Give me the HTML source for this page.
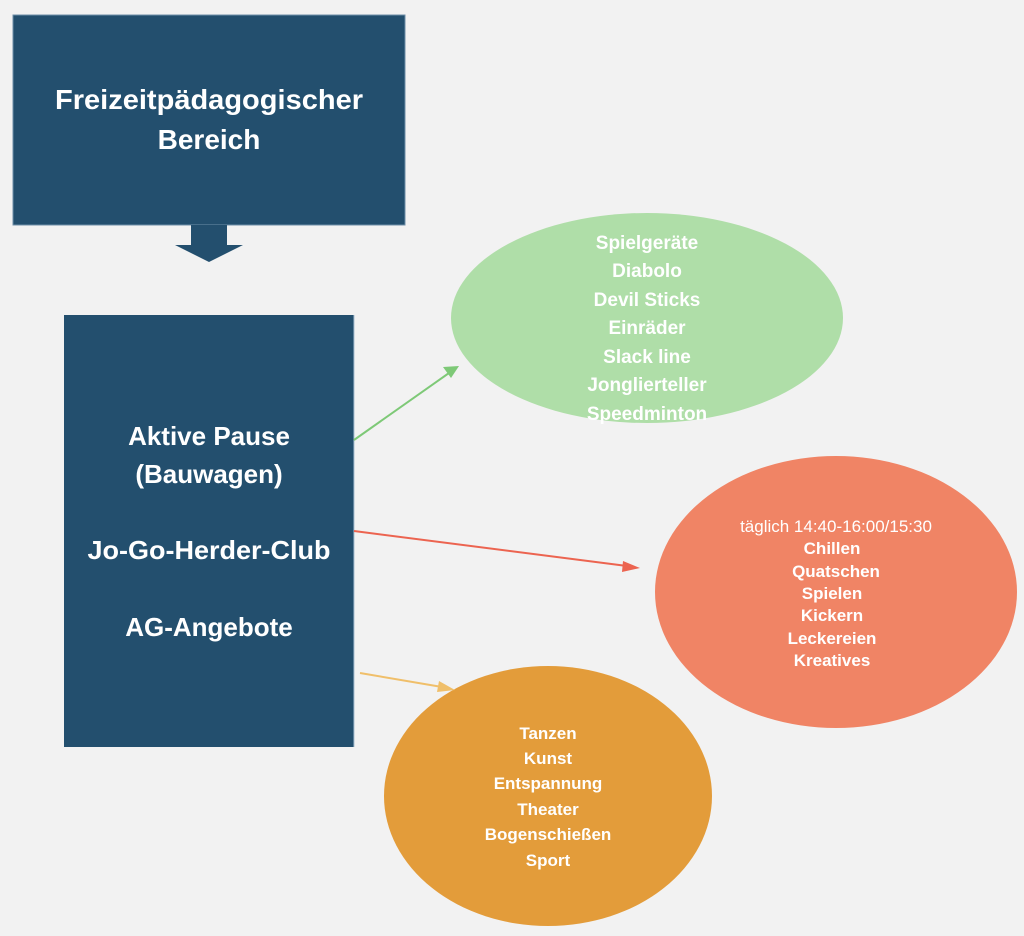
<!DOCTYPE html>
<html><head><meta charset="utf-8"><style>
html,body{margin:0;padding:0;background:#f2f2f2;}
svg{display:block;}
text{font-family:"Liberation Sans",sans-serif;fill:#fff;text-anchor:middle;}
</style></head><body>
<svg width="1024" height="936" viewBox="0 0 1024 936" xmlns="http://www.w3.org/2000/svg">
<rect width="1024" height="936" fill="#f2f2f2"/>
<rect x="13" y="15" width="392" height="210" fill="#234f6e" stroke="#6e8fa8" stroke-width="1"/>
<text x="209" y="109" font-size="28" font-weight="bold" textLength="308" lengthAdjust="spacingAndGlyphs">Freizeitpädagogischer</text>
<text x="209" y="149" font-size="28" font-weight="bold">Bereich</text>
<polygon points="191,225 227,225 227,245 243,245 209,262 175,245 191,245" fill="#234f6e"/>
<rect x="64" y="315" width="290" height="432" fill="#234f6e"/>
<line x1="354" y1="315" x2="354" y2="747" stroke="#a9c1d4" stroke-width="1"/>
<g font-size="26" font-weight="bold">
<text x="209" y="445">Aktive Pause</text>
<text x="209" y="483">(Bauwagen)</text>
<text x="209" y="559" textLength="243" lengthAdjust="spacingAndGlyphs">Jo-Go-Herder-Club</text>
<text x="209" y="636">AG-Angebote</text>
</g>
<ellipse cx="647" cy="318" rx="196" ry="105" fill="#afdea8"/>
<g font-size="19" font-weight="bold">
<text x="647" y="249">Spielgeräte</text>
<text x="647" y="277">Diabolo</text>
<text x="647" y="306">Devil Sticks</text>
<text x="647" y="334">Einräder</text>
<text x="647" y="363">Slack line</text>
<text x="647" y="391">Jonglierteller</text>
<text x="647" y="420">Speedminton</text>
</g>
<ellipse cx="836" cy="592" rx="181" ry="136" fill="#f08465"/>
<text x="836" y="532" font-size="17">täglich 14:40-16:00/15:30</text>
<g font-size="17" font-weight="bold">
<text x="832" y="554">Chillen</text>
<text x="836" y="577">Quatschen</text>
<text x="832" y="599">Spielen</text>
<text x="832" y="621">Kickern</text>
<text x="832" y="644">Leckereien</text>
<text x="832" y="666">Kreatives</text>
</g>
<ellipse cx="548" cy="796" rx="164" ry="130" fill="#e39c3a"/>
<g font-size="17" font-weight="bold">
<text x="548" y="739">Tanzen</text>
<text x="548" y="764">Kunst</text>
<text x="548" y="789">Entspannung</text>
<text x="548" y="815">Theater</text>
<text x="548" y="840">Bogenschießen</text>
<text x="548" y="866">Sport</text>
</g>
<line x1="354" y1="440" x2="449" y2="373" stroke="#7ec977" stroke-width="2"/>
<polygon points="459,366 443,367 451,378" fill="#7ec977"/>
<line x1="354" y1="531" x2="627" y2="566" stroke="#ec6450" stroke-width="2"/>
<polygon points="640,568 623,561 622,572" fill="#ec6450"/>
<line x1="360" y1="673" x2="442" y2="687" stroke="#f0bf6a" stroke-width="2"/>
<polygon points="455,690 439,681 437,692" fill="#f0bf6a"/>
</svg>
</body></html>
